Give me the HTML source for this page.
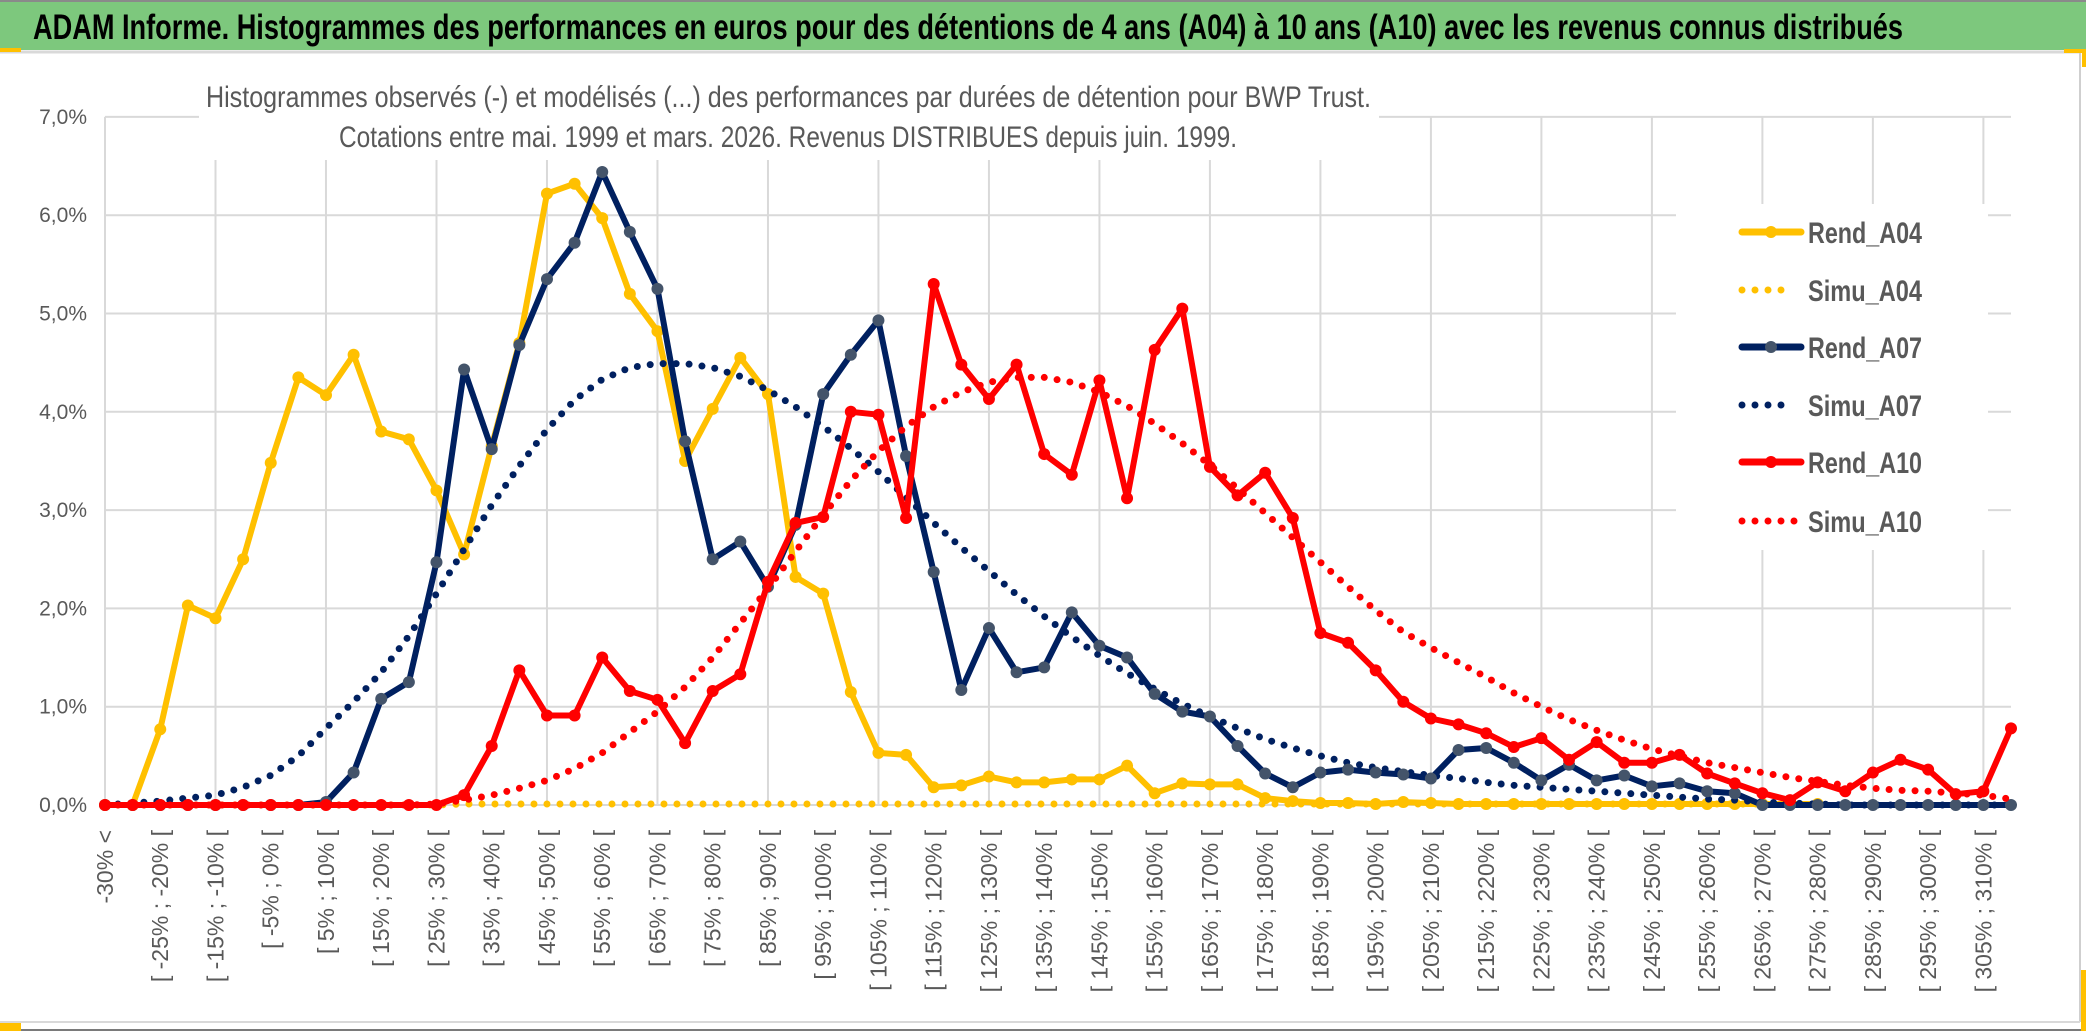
<!DOCTYPE html>
<html><head><meta charset="utf-8">
<style>
html,body{margin:0;padding:0;background:#fff;}
svg{display:block;}
text{font-family:"Liberation Sans Narrow","Liberation Sans",sans-serif;}
</style></head>
<body>
<svg id="chart" width="2086" height="1031" viewBox="0 0 2086 1031" xmlns="http://www.w3.org/2000/svg">
  <rect x="0" y="0" width="2086" height="1031" fill="#ffffff"/>
  <rect x="0" y="0" width="2086" height="50" fill="#7DC87D"/>
  <line x1="0" y1="1" x2="2086" y2="1" stroke="#8a8a8a" stroke-width="2"/>
  <line x1="0" y1="52" x2="2080" y2="52" stroke="#d9d9d9" stroke-width="3"/>
  <line x1="2080" y1="52" x2="2080" y2="1022" stroke="#cfcfcf" stroke-width="2"/>
  <line x1="0" y1="1022" x2="2080" y2="1022" stroke="#d9d9d9" stroke-width="2"/>
  <line x1="0" y1="1030" x2="2086" y2="1030" stroke="#7a7a7a" stroke-width="2"/>
  <rect x="0" y="48" width="21" height="4" fill="#FFC000"/>
  <rect x="0" y="1023" width="21" height="8" fill="#FFC000"/>
  <rect x="2064" y="49" width="22" height="4" fill="#FFC000"/>
  <rect x="2082" y="49" width="4" height="18" fill="#FFC000"/>
  <rect x="2081" y="970" width="5" height="61" fill="#FFC000"/>
  <text x="33" y="39" font-size="35" font-weight="bold" fill="#000" textLength="1870" lengthAdjust="spacingAndGlyphs">ADAM Informe. Histogrammes des performances en euros pour des détentions de 4 ans (A04) à 10 ans (A10) avec les revenus connus distribués</text>
  <g id="grid"></g>
  <g id="plot"></g>
  <rect x="199" y="60" width="1180" height="100" fill="#ffffff"/>
  <text x="206" y="107" font-size="30" fill="#595959" textLength="1165" lengthAdjust="spacingAndGlyphs">Histogrammes observés (-) et modélisés (...) des performances par durées de détention pour BWP Trust.</text>
  <text x="339" y="147" font-size="30" fill="#595959" textLength="898" lengthAdjust="spacingAndGlyphs">Cotations entre mai. 1999 et mars. 2026. Revenus DISTRIBUES depuis juin. 1999.</text>
  <g id="yaxis"></g>
  <g id="xaxis"></g>
  <g id="legend"></g>
</svg>
<script>
const rendA04 = [0,0,0.77,2.03,1.9,2.5,3.48,4.35,4.17,4.58,3.8,3.72,3.2,2.55,3.65,4.7,6.22,6.32,5.97,5.2,4.82,3.5,4.03,4.55,4.18,2.32,2.15,1.15,0.53,0.51,0.18,0.2,0.29,0.23,0.23,0.26,0.26,0.4,0.12,0.22,0.21,0.21,0.07,0.04,0.02,0.02,0.01,0.03,0.02,0.01,0.01,0.01,0.01,0.01,0.01,0.01,0.01,0.01,0.01,0.01,0.01,0.01,0.01,null,null,null,null,null,null,null];
const simuA04 = [0,0,0,0,0,0,0,0,0,0,0,0,0,0.01,0.01,0.01,0.01,0.01,0.01,0.01,0.01,0.01,0.01,0.01,0.01,0.01,0.01,0.01,0.01,0.01,0.01,0.01,0.01,0.01,0.01,0.01,0.01,0.01,0.01,0.01,0.01,0.01,0.01,0.01,0.01,0.01,0.01,0.01,0.01,0.01,0.01,0.01,0.01,0.01,0.01,0.01,0.01,0.01,0.01,0.01,0.01,null,null,null,null,null,null,null,null,null];
const rendA07 = [0,0,0,0,0,0,0,0,0.03,0.33,1.08,1.25,2.47,4.43,3.62,4.68,5.35,5.72,6.44,5.83,5.25,3.7,2.5,2.68,2.22,2.85,4.18,4.58,4.93,3.55,2.37,1.17,1.8,1.35,1.4,1.96,1.62,1.5,1.13,0.95,0.9,0.6,0.32,0.18,0.33,0.36,0.33,0.31,0.27,0.56,0.58,0.43,0.25,0.41,0.25,0.3,0.19,0.22,0.14,0.12,0,0,0,0,0,0,0,0,0,0];
const simuA07 = [0,0.02,0.04,0.07,0.1,0.18,0.3,0.5,0.78,1.05,1.35,1.72,2.15,2.6,3.05,3.45,3.82,4.12,4.33,4.45,4.49,4.49,4.45,4.36,4.22,4.05,3.85,3.63,3.39,3.13,2.87,2.62,2.38,2.14,1.92,1.71,1.52,1.34,1.18,1.03,0.9,0.78,0.67,0.58,0.5,0.43,0.38,0.34,0.3,0.27,0.23,0.2,0.18,0.16,0.14,0.12,0.1,0.08,0.06,0.05,0.03,0.02,0.01,0,0,0,0,0,0,0];
const rendA10 = [0,0,0,0,0,0,0,0,0,0,0,0,0,0.1,0.6,1.37,0.91,0.91,1.5,1.16,1.07,0.63,1.16,1.33,2.27,2.87,2.93,4.0,3.97,2.92,5.3,4.48,4.13,4.48,3.57,3.36,4.32,3.12,4.63,5.05,3.44,3.15,3.38,2.92,1.75,1.65,1.37,1.05,0.88,0.82,0.73,0.59,0.68,0.46,0.64,0.43,0.43,0.51,0.32,0.22,0.12,0.05,0.23,0.14,0.33,0.46,0.36,0.11,0.14,0.78];
const simuA10 = [0,0,0,0,0,0,0,0,0,0,0,0,0.01,0.05,0.1,0.17,0.25,0.37,0.53,0.74,0.95,1.2,1.5,1.85,2.2,2.58,2.95,3.3,3.6,3.85,4.05,4.2,4.3,4.35,4.35,4.3,4.2,4.06,3.88,3.68,3.46,3.22,2.97,2.72,2.47,2.22,1.98,1.76,1.6,1.45,1.3,1.14,1.0,0.87,0.76,0.66,0.57,0.5,0.43,0.38,0.33,0.28,0.24,0.2,0.17,0.15,0.14,0.12,0.1,0.06];
const yTicks = [0,1,2,3,4,5,6,7];
const yTickLabels = ["0,0%","1,0%","2,0%","3,0%","4,0%","5,0%","6,0%","7,0%"];
const categoryCount = 70;
const legendNames = ["Rend_A04","Simu_A04","Rend_A07","Simu_A07","Rend_A10","Simu_A10"];

function catLabel(i){
  if(i===0) return "-30% <";
  if(i%2!==0 || i>=categoryCount-1) return "";
  const a = -35+5*i, b = a+5;
  return "[ " + a + "% ; " + b + "% [";
}

const NS="http://www.w3.org/2000/svg";
const X0=105, X1=2011, Y0=805, YPER=98.3;
const xs = i => X0 + (X1-X0)*i/(categoryCount-1);
const ys = v => Y0 - v*YPER;
function mk(tag, attrs, parent){
  const e=document.createElementNS(NS,tag);
  for(const k in attrs) e.setAttribute(k, attrs[k]);
  parent.appendChild(e); return e;
}
const grid=document.getElementById('grid');
const plot=document.getElementById('plot');
const yaxis=document.getElementById('yaxis');
const xaxis=document.getElementById('xaxis');
const legend=document.getElementById('legend');

yTicks.forEach((t,k)=>{
  const l=mk('line',{x1:X0,x2:X1,y1:ys(t),y2:ys(t),stroke:'#d9d9d9','stroke-width':2},grid);
  
  
  const tx=mk('text',{x:87,y:ys(t)+7,'font-size':21,fill:'#595959','text-anchor':'end'},yaxis);
  tx.textContent=yTickLabels[k];
  
  
});
for(let i=0;i<categoryCount;i+=4){
  const l=mk('line',{x1:xs(i),x2:xs(i),y1:ys(7),y2:Y0,stroke:'#d9d9d9','stroke-width':2},grid);
  
  
}
for(let i=0;i<categoryCount;i++){
  const s=catLabel(i); if(!s) continue;
  const x=xs(i), y=830;
  const tx=mk('text',{x:x, y:y, 'font-size':23, fill:'#595959','text-anchor':'end',
    transform:'rotate(-90 '+x+' '+y+')', dy:'8', 'font-family':'"Liberation Sans", sans-serif'},xaxis);
  tx.textContent=s;
  
  
}
function pathFor(arr){
  let d='', pen=false;
  arr.forEach((v,i)=>{
    if(v===null){pen=false;return;}
    d += (pen?'L':'M') + xs(i).toFixed(1) + ' ' + ys(v).toFixed(1) + ' ';
    pen=true;
  });
  return d;
}
function dotted(arr,color,name){
  const p=mk('path',{d:pathFor(arr),fill:'none',stroke:color,'stroke-width':7,'stroke-linecap':'round','stroke-dasharray':'0 13'},plot);
  
  
}
function solid(arr,color,mcolor,name){
  const g=mk('g',{},plot);
  
  
  mk('path',{d:pathFor(arr),fill:'none',stroke:color,'stroke-width':6,'stroke-linejoin':'round'},g);
  arr.forEach((v,i)=>{
    if(v===null) return;
    const c=mk('circle',{cx:xs(i),cy:ys(v),r:6,fill:mcolor},g);
    
    
  });
}
dotted(simuA04,'#FFC000','series-simu-a04');
solid(rendA04,'#FFC000','#FFC000','series-rend-a04');
dotted(simuA07,'#002060','series-simu-a07');
solid(rendA07,'#002060','#44546A','series-rend-a07');
dotted(simuA10,'#FF0000','series-simu-a10');
solid(rendA10,'#FF0000','#FF0000','series-rend-a10');

// legend
const lb=mk('rect',{x:1676,y:204,width:312,height:346,fill:'#ffffff'},legend);


const lcolors=['#FFC000','#FFC000','#002060','#002060','#FF0000','#FF0000'];
const lmark=['#FFC000','#FFC000','#44546A','#44546A','#FF0000','#FF0000'];
const lys=[232,290,347,405,462,521];
legendNames.forEach((n,k)=>{
  const g=mk('g',{},legend);
  
  
  const y=lys[k];
  if(k%2===0){
    mk('line',{x1:1742,x2:1801,y1:y,y2:y,stroke:lcolors[k],'stroke-width':7,'stroke-linecap':'round'},g);
    mk('circle',{cx:1771,cy:y,r:6,fill:lmark[k]},g);
  } else {
    const end = k===5?1800:1790;
    mk('line',{x1:1742,x2:end,y1:y,y2:y,stroke:lcolors[k],'stroke-width':7,'stroke-linecap':'round','stroke-dasharray':'0 13'},g);
  }
  const t=mk('text',{x:1808,y:y+11,'font-size':30,'font-weight':'bold',fill:'#595959',textLength:114,lengthAdjust:'spacingAndGlyphs'},g);
  t.textContent=n;
});
</script>
</body></html>
